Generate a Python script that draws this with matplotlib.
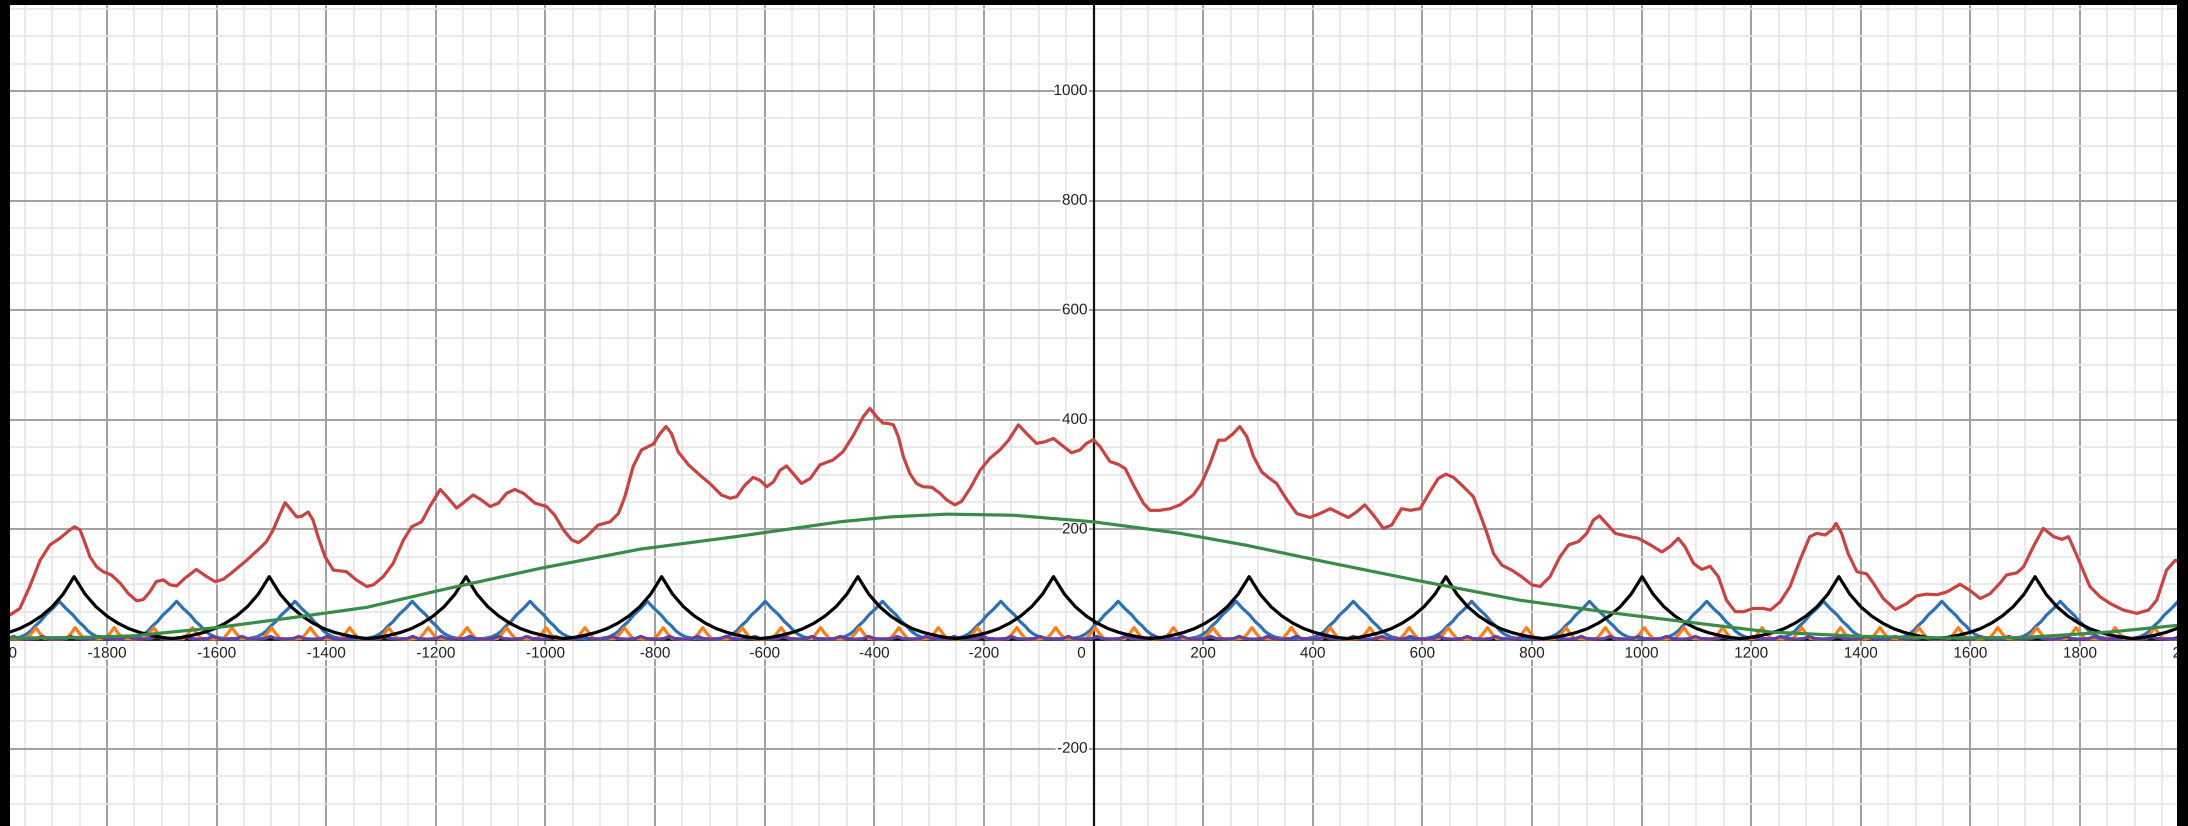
import numpy as np
import matplotlib.pyplot as plt
import matplotlib.patheffects as pe
from matplotlib.transforms import offset_copy

# red: the combined signal
red_x = [-1977, -1959, -1941, -1922, -1904, -1886, -1868, -1859, -1849, -1840, -1831, -1819,
         -1807, -1792, -1776, -1761, -1746, -1734, -1722, -1710, -1697, -1685, -1673, -1658,
         -1637, -1618, -1603, -1588, -1570, -1545, -1521, -1509, -1497, -1484, -1475, -1466,
         -1454, -1445, -1433, -1424, -1415, -1402, -1387, -1363, -1345, -1326, -1314, -1296,
         -1278, -1259, -1244, -1226, -1211, -1192, -1180, -1162, -1147, -1132, -1117, -1101,
         -1086, -1071, -1056, -1040, -1019, -998, -983, -967, -952, -940, -925, -904, -882,
         -867, -855, -840, -825, -803, -791, -780, -770, -758, -739, -718, -700, -679, -663,
         -651, -636, -621, -609, -596, -584, -572, -560, -548, -533, -517, -499, -475, -457,
         -438, -420, -408, -396, -384, -377, -365, -356, -347, -335, -323, -311, -295, -280,
         -268, -253, -241, -225, -207, -189, -171, -155, -137, -122, -104, -89, -73, -58, -40,
         -25, -13, 0, 12, 30, 45, 58, 73, 91, 103, 121, 140, 158, 182, 197, 213, 228, 240,
         255, 267, 280, 292, 307, 319, 334, 353, 371, 395, 413, 432, 450, 465, 480, 495, 511,
         529, 544, 562, 578, 596, 614, 629, 643, 657, 675, 693, 705, 718, 730, 745, 763, 781,
         800, 815, 833, 851, 867, 885, 900, 912, 923, 936, 952, 973, 994, 1016, 1037, 1052,
         1067, 1079, 1095, 1110, 1125, 1140, 1155, 1171, 1186, 1204, 1222, 1235, 1253, 1271,
         1289, 1307, 1320, 1335, 1347, 1355, 1365, 1377, 1393, 1411, 1423, 1441, 1463, 1484,
         1502, 1520, 1539, 1557, 1581, 1599, 1618, 1636, 1654, 1666, 1685, 1697, 1715, 1733,
         1752, 1767, 1779, 1794, 1818, 1837, 1855, 1879, 1904, 1925, 1940, 1958, 1974, 1980]
red_y = [44, 56, 96, 144, 172, 184, 199, 205, 199, 175, 150, 132,
         123, 117, 102, 83, 70, 72, 86, 105, 108, 99, 97, 111,
         127, 114, 105, 109, 123, 144, 166, 178, 199, 229, 249, 238,
         223, 224, 232, 217, 187, 150, 126, 123, 108, 96, 99, 114,
         138, 181, 205, 214, 242, 273, 260, 239, 251, 263, 254, 242,
         248, 266, 273, 266, 248, 242, 226, 199, 181, 176, 187, 208, 214,
         229, 260, 315, 345, 356, 375, 388, 375, 342, 318, 299, 284, 263, 257,
         260, 281, 295, 290, 278, 287, 308, 316, 302, 284, 293, 318, 327, 342,
         372, 406, 421, 406, 394, 394, 391, 369, 333, 302, 284, 278, 277, 266,
         254, 245, 251, 275, 308, 330, 345, 363, 391, 375, 357, 360, 366, 354, 340,
         345, 357, 364, 351, 324, 319, 311, 281, 248, 235, 235, 238, 245, 263, 284, 321, 363, 363,
         375, 388, 369, 333, 305, 295, 284, 254, 229, 222, 229, 238, 229, 222, 232, 245, 226,
         202, 208, 238, 235, 238, 269, 293, 301, 295, 278, 260, 229, 193, 156, 135, 126, 114,
         99, 96, 114, 150, 172, 178, 193, 217, 225, 211, 193, 188, 184, 172, 159, 169,
         184, 169, 138, 127, 133, 114, 71, 50, 50, 56, 56, 53, 68, 96,
         144, 187, 193, 190, 199, 211, 193, 156, 123, 119, 102, 74, 54, 65,
         79, 82, 81, 86, 100, 89, 74, 83, 102, 117, 121, 132, 169, 202,
         187, 182, 187, 153, 96, 77, 65, 53, 47, 53, 71, 126, 144, 141]

# green: slow hump
green_x = [-1977, -1850, -1752, -1600, -1448, -1326, -1193, -1010, -828, -645, -463, -370,
           -268, -146, 0, 158, 280, 413, 596, 778, 961, 1143, 1234, 1400, 1550, 1700, 1855, 1977]
green_y = [2, 3, 6, 21, 41, 58, 89, 129, 164, 188, 214, 223,
           228, 226, 214, 193, 171, 143, 106, 71, 46, 24, 13, 5, 2, 3, 13, 25]

# black cusps: peak positions and one-sided profile
black_peaks = [-2218, -1860, -1504, -1145, -788, -430, -73, 284, 643, 1001, 1360, 1718, 2076]
black_offsets = [0, 20, 40, 60, 80, 100, 120, 140, 160, 179]
black_values = [114, 82, 59, 42, 29, 19, 12, 7, 3, 1]

# blue cusps
blue_peaks = [-2101, -1887, -1673, -1457, -1243, -1028, -814, -599, -385, -169, 45, 260,
              474, 690, 905, 1119, 1332, 1548, 1764, 1979]
blue_offsets = [0, 12, 25, 35, 44, 52, 60, 70, 85, 107]
blue_values = [69, 56, 44, 32, 24, 15, 9, 4, 1, 0]

# orange spikes
orange_peaks = [-2001, -1930, -1858, -1787, -1715, -1644, -1572, -1500, -1429, -1357, -1286,
                -1214, -1143, -1071, -999, -928, -856, -785, -713, -641, -570, -498, -427,
                -355, -283, -212, -140, -69, 3, 74, 146, 218, 289, 361, 432, 504, 576, 647,
                719, 790, 862, 934, 1005, 1077, 1148, 1220, 1292, 1363, 1435, 1506, 1578,
                1650, 1721, 1793, 1864, 1936, 2007]
orange_offsets = [0, 8, 16, 35]
orange_values = [21, 10, 1, 0]

# purple ripples along the baseline
purple_peaks = [-1970, -1918, -1866, -1814, -1762, -1710, -1658, -1606, -1554, -1502, -1450,
                -1398, -1346, -1294, -1242, -1190, -1138, -1086, -1034, -982, -930, -878,
                -826, -774, -722, -670, -618, -566, -514, -462, -410, -358, -306, -254, -202,
                -150, -98, -46, 6, 58, 110, 162, 214, 266, 318, 370, 422, 474, 526, 578, 630,
                682, 734, 786, 838, 890, 942, 994, 1046, 1098, 1150, 1202, 1254, 1306, 1358,
                1410, 1462, 1514, 1566, 1618, 1670, 1722, 1774, 1826, 1878, 1930, 1982]
purple_offsets = [0, 10, 26]
purple_values = [5, 1, 0]

x_major = np.arange(-2000, 2001, 200)
y_major = np.arange(-200, 1001, 200)


def cusp_train(peaks, offsets, values):
    offs = np.asarray(offsets, float)
    vals = np.asarray(values, float)
    seg_x = np.concatenate([-offs[::-1], offs[1:]])
    seg_y = np.concatenate([vals[::-1], vals[1:]])
    xs = np.concatenate([p + seg_x for p in peaks])
    ys = np.tile(seg_y, len(peaks))
    return xs, ys


fig = plt.figure(figsize=(21.88, 8.26), dpi=100, facecolor="black")
ax = fig.add_axes([10 / 2188, 0, 2167 / 2188, 821 / 826])
ax.set_facecolor("white")

ax.set_xticks(x_major)
ax.set_xticks(np.arange(-2000, 2001, 50), minor=True)
ax.set_yticks(y_major)
ax.set_yticks(np.arange(-350, 1201, 50), minor=True)
ax.set_xlim(-1977, 1977)
ax.set_ylim(-341, 1157)
ax.grid(which="minor", color="#e4e4e4", lw=1.1, zorder=0)
ax.grid(which="major", color="#a0a0a0", lw=1.4, zorder=0)
ax.tick_params(which="both", length=0, labelbottom=False, labelleft=False)
ax.set_axisbelow(True)
for s in ax.spines.values():
    s.set_visible(False)

ax.axhline(0, color="#111111", lw=2.0, zorder=1)
ax.axvline(0, color="#111111", lw=1.6, zorder=1)

halo = [pe.withStroke(linewidth=3, foreground="white")]
lab = dict(fontsize=11, color="#222222", family="Liberation Sans",
           path_effects=halo, clip_on=True, zorder=2)
below = offset_copy(ax.transData, fig=fig, x=0, y=-14.5, units="dots")
for v in x_major:
    if v == 0:
        continue
    ax.text(v, 0, f"{v:d}", transform=below, ha="center", va="center", **lab)
zero_tr = offset_copy(ax.transData, fig=fig, x=-12, y=-14.5, units="dots")
ax.text(0, 0, "0", transform=zero_tr, ha="center", va="center", **lab)
left = offset_copy(ax.transData, fig=fig, x=-6, y=0, units="dots")
for v in y_major:
    if v == 0:
        continue
    ax.text(0, v, f"{v:d}", transform=left, ha="right", va="center", **lab)

lw = 2.3
style = dict(lw=lw, solid_joinstyle="round", solid_capstyle="round")
bx, by = cusp_train(blue_peaks, blue_offsets, blue_values)
ax.plot(bx, by, color="#2d70b3", zorder=3, **style)
ox, oy = cusp_train(orange_peaks, orange_offsets, orange_values)
ax.plot(ox, oy, color="#fa7e19", zorder=4, **style)
px, py = cusp_train(purple_peaks, purple_offsets, purple_values)
ax.plot(px, py, color="#6042a6", zorder=4, **style)
kx, ky = cusp_train(black_peaks, black_offsets, black_values)
ax.plot(kx, ky, color="#000000", zorder=5, **style)
ax.plot(green_x, green_y, color="#388c46", zorder=6, **style)
ax.plot(red_x, red_y, color="#c74440", zorder=7, **style)

fig.savefig("out.png", dpi=100, facecolor=fig.get_facecolor())
